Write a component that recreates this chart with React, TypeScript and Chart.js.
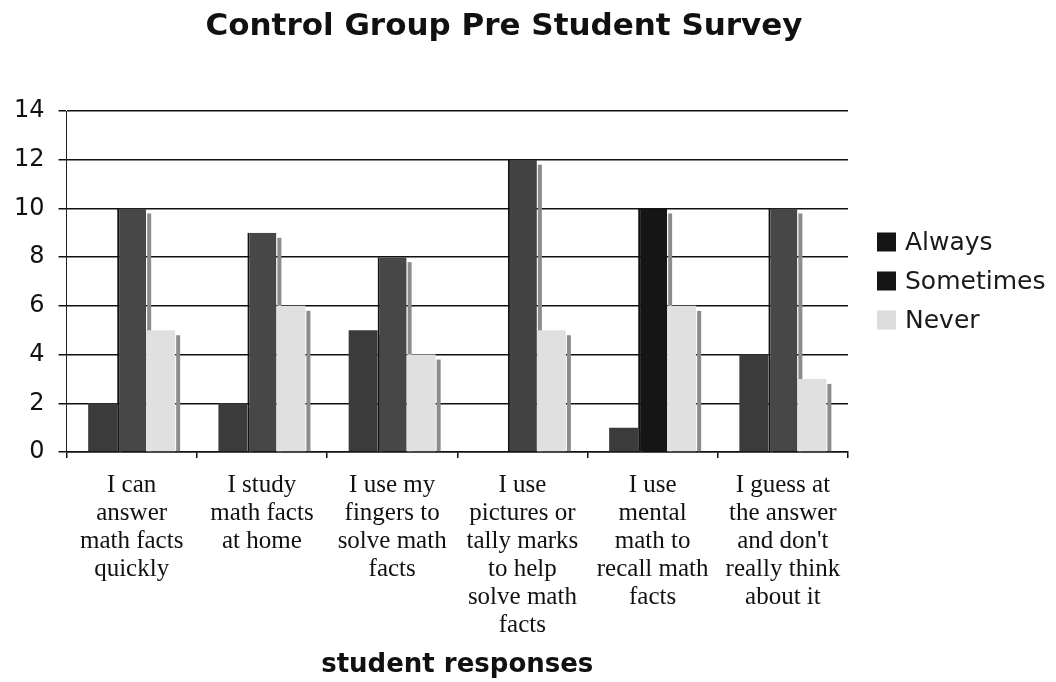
import React, { useEffect, useRef } from "react";
import { Chart, registerables } from "chart.js";

Chart.register(...registerables);

const chartTitle = "Control Group Pre Student Survey";
const axisTitle = "student responses";

const categories: string[][] = [
  ["I can", "answer", "math facts", "quickly"],
  ["I study", "math facts", "at home"],
  ["I use my", "fingers to", "solve math", "facts"],
  ["I use", "pictures or", "tally marks", "to help", "solve math", "facts"],
  ["I use", "mental", "math to", "recall math", "facts"],
  ["I guess at", "the answer", "and don't", "really think", "about it"],
];

const seriesNames = ["Always", "Sometimes", "Never"];
const always = [2, 2, 5, 0, 1, 4];
const sometimes = [10, 9, 8, 12, 10, 10];
const never = [5, 6, 4, 5, 6, 3];

const yTicks = [0, 2, 4, 6, 8, 10, 12, 14];

const SANS = "'DejaVu Sans', Verdana, sans-serif";
const SERIF = "'Liberation Serif', 'Times New Roman', serif";

const legendSwatches = ["#141414", "#141414", "#dcdcdc"];

// Grey edge strip on the right side of each bar, drawn before the bars so
// the next bar in the group covers it.
const barEdgePlugin = {
  id: "barEdge",
  beforeDatasetsDraw(chart: any) {
    const ctx = chart.ctx;
    ctx.save();
    ctx.fillStyle = "#8c8c8c";
    chart.data.datasets.forEach((_: any, di: number) => {
      const meta = chart.getDatasetMeta(di);
      meta.data.forEach((bar: any, i: number) => {
        const v = chart.data.datasets[di].data[i];
        if (!v) return;
        const { x, y, base, width } = bar.getProps(["x", "y", "base", "width"], true);
        const right = x + width / 2;
        const top = y + 5;
        ctx.fillRect(right + 1, top, 4, base - top);
      });
    });
    ctx.restore();
  },
};

// Title above the plot and the legend on its right.
const overlayPlugin = {
  id: "overlay",
  afterDraw(chart: any) {
    const ctx = chart.ctx;
    const area = chart.chartArea;
    ctx.save();
    ctx.fillStyle = "#111";
    ctx.font = `bold 31px ${SANS}`;
    ctx.textAlign = "center";
    ctx.textBaseline = "alphabetic";
    ctx.fillText(chartTitle, 504, 35);

    const midY = (area.top + area.bottom) / 2;
    const step = 39;
    ctx.font = `25px ${SANS}`;
    ctx.textAlign = "left";
    ctx.textBaseline = "middle";
    seriesNames.forEach((name, i) => {
      const cy = midY + (i - 1) * step;
      ctx.fillStyle = legendSwatches[i];
      ctx.fillRect(area.right + 29, cy - 10, 19, 19);
      ctx.fillStyle = "#1a1a1a";
      ctx.fillText(name, area.right + 57, cy + 1);
    });
    ctx.restore();
  },
};

export default function App() {
  const canvasRef = useRef<HTMLCanvasElement | null>(null);

  useEffect(() => {
    if (!canvasRef.current) return;
    const chart = new Chart(canvasRef.current, {
      type: "bar",
      data: {
        labels: categories,
        datasets: [
          {
            label: seriesNames[0],
            data: always,
            backgroundColor: "#3b3b3b",
            borderWidth: 0,
          },
          {
            label: seriesNames[1],
            data: sometimes,
            backgroundColor: ["#474747", "#474747", "#474747", "#434343", "#151515", "#474747"],
            borderColor: "#121212",
            borderWidth: { left: 2, top: 0, right: 0, bottom: 0 },
            borderSkipped: false,
          },
          {
            label: seriesNames[2],
            data: never,
            backgroundColor: "#e0e0e0",
            borderWidth: 0,
          },
        ],
      },
      options: {
        responsive: false,
        animation: false,
        devicePixelRatio: 1,
        layout: { padding: { top: 111, left: 0, right: 208, bottom: 4 } },
        plugins: {
          legend: { display: false },
          title: { display: false },
          tooltip: { enabled: false },
        },
        datasets: {
          bar: { categoryPercentage: 0.668, barPercentage: 1 },
        },
        scales: {
          x: {
            offset: true,
            grid: {
              display: true,
              offset: true,
              drawOnChartArea: false,
              drawTicks: true,
              tickLength: 6,
              color: "#111",
              lineWidth: 1.5,
            },
            border: { display: true, color: "#111", width: 1.5 },
            ticks: {
              color: "#111",
              font: { family: SERIF, size: 25, lineHeight: 1.12 },
              padding: 13,
              maxRotation: 0,
              autoSkip: false,
            },
            title: {
              display: true,
              text: axisTitle,
              color: "#111",
              font: { family: SANS, size: 26, weight: "bold", lineHeight: 1.0 },
              padding: { top: 0, bottom: 0 },
            },
          },
          y: {
            min: 0,
            max: 14,
            afterBuildTicks(scale: any) {
              scale.ticks = yTicks.map((v) => ({ value: v }));
            },
            grid: {
              color: "#111",
              lineWidth: 1.5,
              drawTicks: true,
              tickLength: 8,
            },
            border: { display: true, color: "#222", width: 1 },
            ticks: {
              color: "#111",
              font: { family: SANS, size: 24 },
              padding: 14,
            },
          },
        },
      },
      plugins: [barEdgePlugin, overlayPlugin],
    });
    return () => chart.destroy();
  }, []);

  return (
    <div style={{ position: "absolute", left: 0, top: 0, width: 1056, height: 682, background: "#fff" }}>
      <canvas ref={canvasRef} width={1056} height={682} />
    </div>
  );
}
